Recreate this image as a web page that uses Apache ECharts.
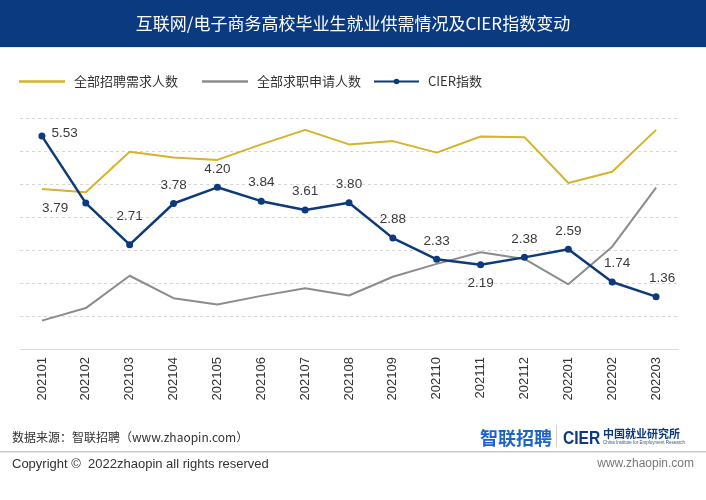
<!DOCTYPE html>
<html><head><meta charset="utf-8">
<script src="https://cdn.jsdelivr.net/npm/echarts@6/dist/echarts.min.js"></script>
<style>html,body{margin:0;padding:0;background:#fff}#c{width:706px;height:500px}</style>
</head><body><div id="c"></div>
<script>
const titleText = '互联网/电子商务高校毕业生就业供需情况及CIER指数变动';
const categories = ['202101','202102','202103','202104','202105','202106','202107','202108','202109','202110','202111','202112','202201','202202','202203'];
const seriesNames = ['全部招聘需求人数','全部求职申请人数','CIER指数'];
// relative levels (hidden axis, unit = one gridline)
const demandValues = [4.85,4.75,5.98,5.80,5.73,6.20,6.64,6.20,6.30,5.95,6.44,6.42,5.03,5.37,6.64];
const applyValues  = [0.86,1.24,2.22,1.54,1.35,1.61,1.84,1.62,2.19,2.58,2.93,2.73,1.96,3.10,4.89];
const cierValues   = [5.53,3.79,2.71,3.78,4.20,3.84,3.61,3.80,2.88,2.33,2.19,2.38,2.59,1.74,1.36];
const sourceText = '数据来源：智联招聘（www.zhaopin.com）';
const copyrightText = 'Copyright ©  2022zhaopin all rights reserved';
const siteText = 'www.zhaopin.com';

const CJK = '"Noto Sans CJK SC", "Liberation Sans", sans-serif';
const LAT = '"Liberation Sans", Arial, sans-serif';

const labelOverrides = {
  0: {position:'right', distance:6, offset:[0,-3]},
  1: {position:'left', distance:14, offset:[0,5]},
  2: {position:'top', distance:18},
  10: {position:'bottom', distance:8},
  13: {position:'top', distance:8, offset:[5,0]},
  14: {position:'top', distance:8, offset:[6,0]}
};
const cierData = cierValues.map((v,i)=> labelOverrides[i] ? {value:v, label:labelOverrides[i]} : v);

const legendText = {fontSize:13, color:'#333', fontFamily:CJK, padding:[0,0,0,4]};
const lineIcon = 'path://M0,0 L46,0 L46,2.5 L0,2.5 Z';

const chart = echarts.init(document.getElementById('c'), null, {renderer:'canvas'});
chart.setOption({
  animation:false,
  backgroundColor:'#fff',
  grid:{left:20, right:28, top:118, bottom:151, containLabel:false},
  legend:[
    {data:[{name:seriesNames[0], icon:lineIcon}], left:19, top:75, padding:0, itemWidth:46, itemHeight:2.5, itemGap:0, textStyle:legendText},
    {data:[{name:seriesNames[1], icon:lineIcon}], left:202, top:75, padding:0, itemWidth:46, itemHeight:2.5, itemGap:0, textStyle:legendText},
    {data:[seriesNames[2]], left:373, top:75, padding:0, itemWidth:45, itemHeight:7, itemGap:0, textStyle:legendText}
  ],
  xAxis:{
    type:'category', data:categories, boundaryGap:true,
    axisLine:{show:true, lineStyle:{color:'#d9d9d9', width:1}},
    axisTick:{show:false},
    axisLabel:{rotate:90, margin:8, fontSize:13, color:'#333', fontFamily:LAT, interval:0}
  },
  yAxis:[
    {type:'value', min:0, max:7, interval:1, axisLabel:{show:false}, axisLine:{show:false}, axisTick:{show:false},
     splitLine:{show:true, lineStyle:{color:'#d6d6d6', type:[3,3], width:1}}},
    {type:'value', min:0, max:6, axisLabel:{show:false}, axisLine:{show:false}, axisTick:{show:false}, splitLine:{show:false}}
  ],
  series:[
    {name:seriesNames[0], type:'line', yAxisIndex:0, data:demandValues, symbol:'none', z:2,
     lineStyle:{color:'#d5b32b', width:2}, itemStyle:{color:'#d5b32b'}},
    {name:seriesNames[1], type:'line', yAxisIndex:0, data:applyValues, symbol:'none', z:2,
     lineStyle:{color:'#8c8c8c', width:2}, itemStyle:{color:'#8c8c8c'}},
    {name:seriesNames[2], type:'line', yAxisIndex:1, data:cierData, symbol:'circle', symbolSize:7, z:5,
     lineStyle:{color:'#0d3a7c', width:2.5}, itemStyle:{color:'#0d3a7c'},
     label:{show:true, position:'top', distance:8, fontSize:13.5, color:'#3a3a3a', fontFamily:LAT, formatter:p=>p.value.toFixed(2)}}
  ],
  graphic:[
    {type:'rect', left:0, top:0, shape:{width:706, height:47}, style:{fill:'#0b3a80'}, z:-1},
    {type:'rect', left:0, top:47, shape:{width:706, height:1}, style:{fill:'#dfe6f0'}, z:-1},
    {type:'text', x:353, y:24, style:{text:titleText, font:'17px '+CJK, fill:'#fff', align:'center', verticalAlign:'middle'}},
    {type:'text', x:12, y:437, style:{text:sourceText, font:'12px '+CJK, fill:'#333', verticalAlign:'middle'}},
    {type:'rect', left:0, top:451, shape:{width:706, height:1.5}, style:{fill:'#c9c9c9'}},
    {type:'text', x:12, y:464, style:{text:copyrightText, font:'13px '+LAT, fill:'#333', verticalAlign:'middle'}},
    {type:'text', x:694, y:464, style:{text:siteText, font:'12px '+LAT, fill:'#777', align:'right', verticalAlign:'middle'}},
    {type:'text', x:480, y:438, style:{text:'智联招聘', font:'bold 18px '+CJK, fill:'#1d63c9', verticalAlign:'middle'}},
    {type:'rect', left:556, top:425, shape:{width:1, height:22}, style:{fill:'#d0d0d0'}},
    {type:'text', x:563, y:439, scaleX:0.82, style:{text:'CIER', font:'bold 19px '+LAT, fill:'#0c3a80', verticalAlign:'middle'}},
    {type:'text', x:603, y:434, style:{text:'中国就业研究所', font:'bold 11px '+CJK, fill:'#0c3a80', verticalAlign:'middle'}},
    {type:'text', x:603, y:443, style:{text:'China Institute for Employment Research', font:'4.5px '+LAT, fill:'#445577', verticalAlign:'middle'}}
  ]
});
</script></body></html>
